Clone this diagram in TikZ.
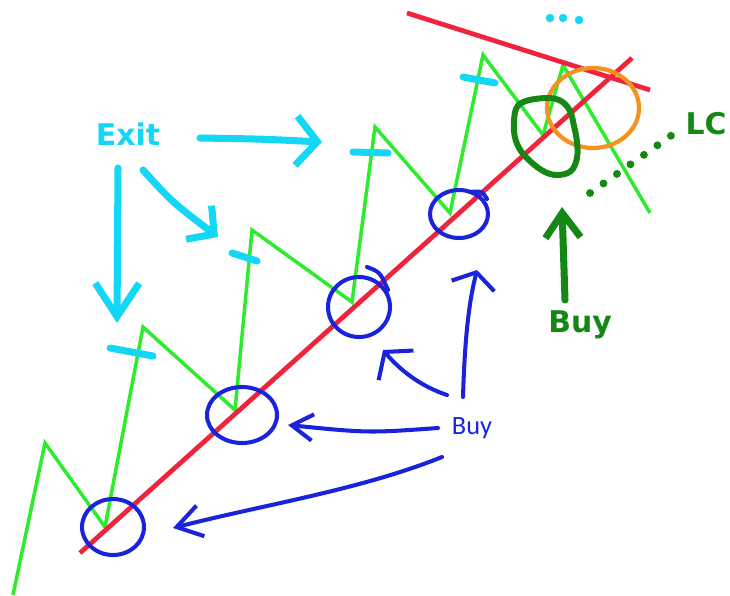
\documentclass[tikz,border=0pt]{standalone}
\usepackage{fontspec}
\newfontfamily\labelfont{DejaVu Sans}
\newfontfamily\notefont{Carlito}
\usetikzlibrary{arrows.meta}
\definecolor{chartgreen}{RGB}{45,235,45}
\definecolor{trendred}{RGB}{240,35,60}
\definecolor{exitcyan}{RGB}{20,215,245}
\definecolor{buyblue}{RGB}{25,35,220}
\definecolor{lcgreen}{RGB}{20,135,20}
\definecolor{lcorange}{RGB}{245,145,30}
\tikzset{
  exitpen/.style={exitcyan, line width=4pt, line cap=round, line join=round},
  buypen/.style={buyblue, line width=2.3pt, line cap=round, line join=round},
  lcpen/.style={lcgreen, line width=4pt, line cap=round, line join=round},
  handlabel/.style={font=\labelfont\bfseries\fontsize{17}{20}\selectfont, inner sep=0pt}
}
\begin{document}
\begin{tikzpicture}[x=0.02cm, y=-0.02cm]
  \useasboundingbox (0,0) rectangle (730,595);

  % Price path
  \draw[chartgreen, line width=2pt] (13,595) -- (45,443) -- (105,527)
    -- (143,327) -- (235,410) -- (252,230) -- (352,302) -- (375,127)
    -- (450,213) -- (483,55) -- (543,135) -- (563,65) -- (650,213);

  % Trend lines
  \draw[trendred, line width=2.7pt] (80,553) -- (632,58);
  \draw[trendred, line width=2.7pt] (407,13) -- (650,90);

  % Exit marks
  \foreach \xa/\ya/\xb/\yb in {110/348/153/356, 232/253/257/261,
      353/152/388/153, 463/77/495/83}
    \draw[exitpen] (\xa,\ya) -- (\xb,\yb);
  \foreach \x/\y in {550/18, 563/18, 579/20}
    \fill[exitcyan] (\x,\y) circle (2.4pt);

  % Exit label and arrows
  \node[handlabel, text=exitcyan] (exit) at (128,134) {Exit};
  \coordinate (exit-r) at (200,138);
  \coordinate (exit-rtip) at (322,142);
  \coordinate (exit-d) at (143,170);
  \coordinate (exit-dtip) at (218,237);
  \coordinate (exit-v) at (118,168);
  \coordinate (exit-vtip) at (117,323);
  \draw[exitpen, -{Straight Barb[length=12pt, width=28pt]}]
    (exit-r) .. controls (262,139) .. (exit-rtip);
  \draw[exitpen, -{Straight Barb[length=11pt, width=24pt]}]
    (exit-d) .. controls (172,202) .. (exit-dtip);
  \draw[exitpen, -{Straight Barb[length=19pt, width=25pt]}]
    (exit-v) -- (exit-vtip);

  % Buy circles on the support line
  \draw[buypen] (113,527) ellipse [x radius=31, y radius=28];
  \draw[buypen] (242,415) ellipse [x radius=35, y radius=28];
  \draw[buypen] (359,307) ellipse [x radius=31, y radius=30];
  \draw[buypen] (459,214) ellipse [x radius=29, y radius=24];
  \draw[buypen] (367,267) .. controls (380,272) .. (388,290);
  \draw[buypen] (470,192) .. controls (482,191) .. (487,199);

  % Buy label and arrows
  \node[text=buyblue, font=\notefont\fontsize{15}{18}\selectfont,
    anchor=base] (buy) at (472,434) {Buy};
  \coordinate (buy-u) at (463,397);
  \coordinate (buy-utip) at (477,270);
  \coordinate (buy-ul) at (447,395);
  \coordinate (buy-ultip) at (383,350);
  \coordinate (buy-l) at (438,428);
  \coordinate (buy-ltip) at (288,425);
  \coordinate (buy-dl) at (442,457);
  \coordinate (buy-dltip) at (173,528);
  \draw[buypen, -{Straight Barb[length=8pt, width=25pt]}]
    (buy-u) .. controls (465,330) and (470,298) .. (buy-utip);
  \draw[buypen, -{Straight Barb[length=10pt, width=26pt]}]
    (buy-ul) .. controls (420,386) and (400,370) .. (buy-ultip);
  \draw[buypen, -{Straight Barb[length=12pt, width=15pt]}]
    (buy-l) .. controls (368,433) .. (buy-ltip);
  \draw[buypen, -{Straight Barb[length=14pt, width=18pt]}]
    (buy-dl) .. controls (360,490) and (262,505) .. (buy-dltip);

  % Last low: buy and LC
  \draw[lcorange, line width=2.4pt] (593,108) ellipse [x radius=46, y radius=40];
  \draw[lcpen, line width=3.4pt] plot[smooth cycle, tension=0.6]
    coordinates {(516,109) (526,101) (547,98) (561,101) (570,111)
      (574,126) (577,142) (577,158) (571,171) (558,175) (545,172)
      (531,162) (519,148) (514,131)};
  \draw[lcpen, line width=4.5pt, dash pattern=on 0pt off 9.4pt]
    (590,193) -- (672,135);
  \node[handlabel, text=lcgreen] (lc) at (706,124) {LC};
  \node[handlabel, text=lcgreen, anchor=base] (lcbuy) at (580,332) {Buy};
  \coordinate (lcbuy-tail) at (565,300);
  \coordinate (lcbuy-tip) at (562,207);
  \draw[lcpen, -{Straight Barb[length=14pt, width=20pt]}]
    (lcbuy-tail) -- (lcbuy-tip);
\end{tikzpicture}
\end{document}
